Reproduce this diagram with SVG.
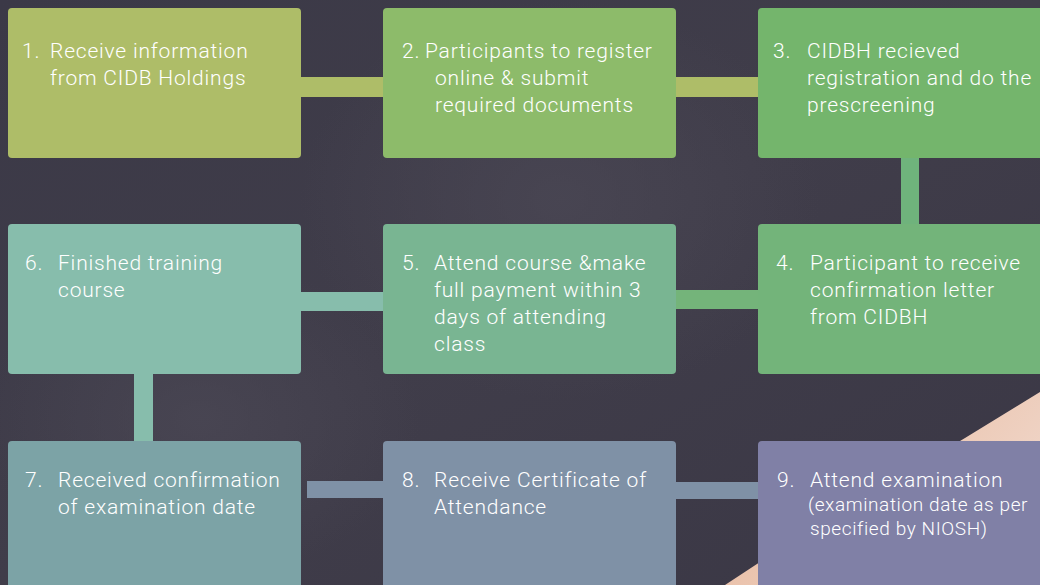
<svg xmlns="http://www.w3.org/2000/svg" width="1040" height="585" viewBox="0 0 1040 585">
<defs>
<linearGradient id="bg" x1="0" y1="0" x2="1" y2="1">
<stop offset="0" stop-color="#3b3947"/>
<stop offset="0.5" stop-color="#403d4a"/>
<stop offset="1" stop-color="#3a3745"/>
</linearGradient>
<radialGradient id="glow1" cx="0.5" cy="0.5" r="0.5">
<stop offset="0" stop-color="#4a4754" stop-opacity="0.8"/>
<stop offset="1" stop-color="#4a4754" stop-opacity="0"/>
</radialGradient>
<linearGradient id="peach" x1="0" y1="0" x2="1" y2="0.6">
<stop offset="0" stop-color="#f0a050"/>
<stop offset="0.15" stop-color="#e8b89c"/>
<stop offset="1" stop-color="#f0d8cc"/>
</linearGradient>
<style>
.t{font-family:Roboto,"Liberation Sans",sans-serif;font-size:21px;font-weight:300;fill:#ffffff;letter-spacing:0.8px}
.s{font-size:19px;letter-spacing:0.6px}
</style>
</defs>
<rect width="1040" height="585" fill="url(#bg)"/>
<ellipse cx="560" cy="200" rx="260" ry="200" fill="url(#glow1)"/>
<ellipse cx="200" cy="420" rx="220" ry="160" fill="url(#glow1)"/>
<polygon points="1040,392 965,438 760,562 725,585 1040,585" fill="url(#peach)"/>

<g id="connectors">
<rect x="300" y="77" width="84" height="20" fill="#aebd68"/>
<rect x="675" y="77" width="84" height="20" fill="#aebd68"/>
<rect x="901" y="157" width="18" height="68" fill="#6fb37c"/>
<rect x="300" y="292" width="84" height="19" fill="#87bdac"/>
<rect x="675" y="290" width="84" height="19" fill="#74b47a"/>
<rect x="134" y="373" width="19" height="69" fill="#87bdac"/>
<rect x="307" y="481" width="77" height="17" fill="#7f91a6"/>
<rect x="675" y="482" width="84" height="17" fill="#7f91a6"/>
</g>

<g id="n1"><rect x="8" y="8" width="293" height="150" rx="4" fill="#aebd68"/>
<text class="t" x="22" y="58">1.</text>
<text class="t" x="50" y="58">Receive information</text>
<text class="t" x="50" y="85">from CIDB Holdings</text></g>

<g id="n2"><rect x="383" y="8" width="293" height="150" rx="4" fill="#8dbb6a"/>
<text class="t" x="402" y="58">2.</text>
<text class="t" x="425" y="58">Participants to register</text>
<text class="t" x="435" y="85">online &amp; submit</text>
<text class="t" x="435" y="112">required documents</text></g>

<g id="n3"><rect x="758" y="8" width="290" height="150" rx="4" fill="#74b56c"/>
<text class="t" x="773" y="58">3.</text>
<text class="t" x="807" y="58">CIDBH recieved</text>
<text class="t" x="807" y="85">registration and do the</text>
<text class="t" x="807" y="112">prescreening</text></g>

<g id="n4"><rect x="758" y="224" width="290" height="150" rx="4" fill="#73b47a"/>
<text class="t" x="776" y="270">4.</text>
<text class="t" x="810" y="270">Participant to receive</text>
<text class="t" x="810" y="297">confirmation letter</text>
<text class="t" x="810" y="324">from CIDBH</text></g>

<g id="n5"><rect x="383" y="224" width="293" height="150" rx="4" fill="#79b592"/>
<text class="t" x="402" y="270">5.</text>
<text class="t" x="434" y="270">Attend course &amp;make</text>
<text class="t" x="434" y="297">full payment within 3</text>
<text class="t" x="434" y="324">days of attending</text>
<text class="t" x="434" y="351">class</text></g>

<g id="n6"><rect x="8" y="224" width="293" height="150" rx="4" fill="#87bdac"/>
<text class="t" x="25" y="270">6.</text>
<text class="t" x="58" y="270">Finished training</text>
<text class="t" x="58" y="297">course</text></g>

<g id="n7"><rect x="8" y="441" width="293" height="160" rx="4" fill="#7ca3a6"/>
<text class="t" x="25" y="487">7.</text>
<text class="t" x="58" y="487">Received confirmation</text>
<text class="t" x="58" y="514">of examination date</text></g>

<g id="n8"><rect x="383" y="441" width="293" height="160" rx="4" fill="#7f91a6"/>
<text class="t" x="402" y="487">8.</text>
<text class="t" x="434" y="487">Receive Certificate of</text>
<text class="t" x="434" y="514">Attendance</text></g>

<g id="n9"><rect x="758" y="441" width="290" height="160" rx="4" fill="#8080a6"/>
<text class="t" x="777" y="487">9.</text>
<text class="t" x="810" y="487">Attend examination</text>
<text class="t s" x="808" y="511">(examination date as per</text>
<text class="t s" x="810" y="535">specified by NIOSH)</text></g>
</svg>
